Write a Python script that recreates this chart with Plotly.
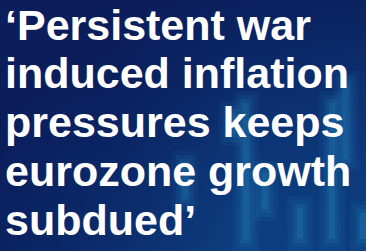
import plotly.graph_objects as go

# Headline text lines
lines = ["‘Persistent war", "induced inflation", "pressures keeps", "eurozone growth", "subdued’"]
line_baselines_px = [40, 88.5, 137, 186, 235]

# Background glow grid (brightness), rows from bottom to top
glow_x = [0, 122, 244, 366]
glow_y = [0, 84, 167, 251]
glow_z = [
    [0.10, 0.35, 0.65, 0.60],
    [0.05, 0.22, 0.55, 0.55],
    [0.00, 0.05, 0.28, 0.38],
    [0.00, 0.00, 0.05, 0.10],
]

# Faint background candles (blurred chart)
candle_pos = [18.5, 23.2, 24.6, 26.5, 30.0, 33.2, 34.6, 36.3]
candle_low = [4.0, 10.5, 0.0, 3.0, 0.0, 0.0, 8.0, 0.0]
candle_high = [10.0, 15.0, 16.0, 9.0, 5.5, 16.0, 18.0, 5.0]

W, H = 366, 251
FS = 43

fig = go.Figure()
fig.add_trace(go.Heatmap(
    x=glow_x, y=glow_y, z=glow_z, zsmooth="best", showscale=False,
    colorscale=[[0, "#0b1d5a"], [0.5, "#0c3677"], [1, "#0f5898"]],
    zmin=0, zmax=1, hoverinfo="skip"))

hi = [h - l for h, l in zip(candle_high, candle_low)]
# layered translucent bars to imitate the blurred background chart
for w, a, shrink in [(2.6, 0.06, 0.0), (1.8, 0.08, 0.4), (1.1, 0.11, 0.8), (0.6, 0.14, 1.2)]:
    fig.add_trace(go.Bar(x=candle_pos, y=[max(v - 2 * shrink, 0.5) for v in hi],
                         base=[l + shrink for l in candle_low], width=w,
                         marker=dict(color=f"rgba(45,165,215,{a})", line_width=0),
                         hoverinfo="skip", xaxis="x2", yaxis="y2"))

for txt, b in zip(lines, line_baselines_px):
    center = b - 0.36 * FS
    fig.add_annotation(text=txt, xref="paper", yref="paper", x=0, y=1 - center / H,
                       xanchor="left", yanchor="middle", showarrow=False, xshift=3,
                       font=dict(family="Liberation Sans", size=FS, color="white", weight="bold"))

fig.update_layout(
    width=W, height=H, margin=dict(l=0, r=0, t=0, b=0),
    paper_bgcolor="#0b1d5a", plot_bgcolor="rgba(0,0,0,0)",
    barmode="overlay", showlegend=False,
    xaxis=dict(range=[0, 366], visible=False),
    yaxis=dict(range=[0, 251], visible=False),
    xaxis2=dict(range=[0, 36.6], visible=False, overlaying="x"),
    yaxis2=dict(range=[0, 25.1], visible=False, overlaying="y"),
)
fig.write_html("out.html", config={"displayModeBar": False},
               post_script="document.body.style.margin='0';document.body.style.background='#0b1d5a';")
